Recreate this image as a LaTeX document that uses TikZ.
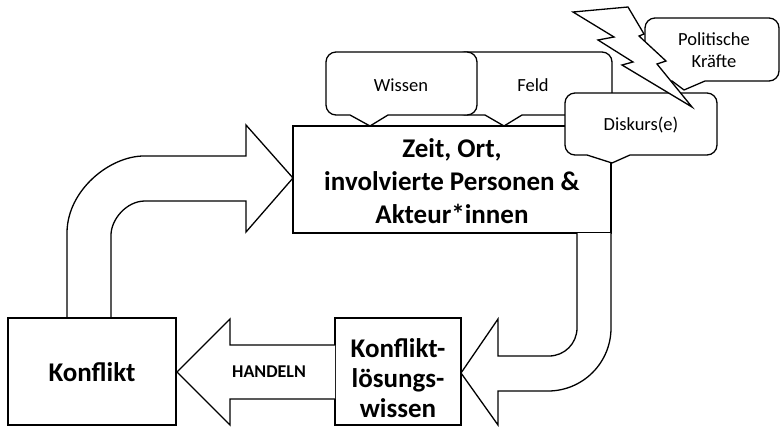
\documentclass[tikz,border=0pt]{standalone}
\usepackage{fontspec}
\setmainfont{Carlito}
\tikzset{
  shape line/.style={draw=black, line width=1.3pt, fill=white, line join=miter},
  bigtext/.style={align=center, font=\fontsize{27}{33}\selectfont\bfseries},
  calltext/.style={align=center, font=\fontsize{18.5}{22}\selectfont},
}
% callout: l t r b x1 tipx tipy x2
\newcommand{\mycallout}[8]{%
  \path[shape line] (#5,#4) -- (#6,#7) -- (#8,#4) -- ({#3-10},#4)
    .. controls ({#3-4.5},#4) and (#3,{#4-4.5}) .. (#3,{#4-10})
    -- (#3,{#2+10}) .. controls (#3,{#2+4.5}) and ({#3-4.5},#2) .. ({#3-10},#2)
    -- ({#1+10},#2) .. controls ({#1+4.5},#2) and (#1,{#2+4.5}) .. (#1,{#2+10})
    -- (#1,{#4-10}) .. controls (#1,{#4-4.5}) and ({#1+4.5},#4) .. ({#1+10},#4)
    -- cycle;}
\begin{document}
\begin{tikzpicture}[x=1pt,y=-1pt]
\useasboundingbox[fill=white] (0,0) rectangle (782,426);

% main box
\path[shape line] (293,126) rectangle (611,233);
\node[bigtext] (main) at (452,181) {Zeit, Ort,\\involvierte Personen \&\\Akteur*innen};

% upper-left bent arrow
\path[shape line] (67,318) -- (67,233) .. controls (67,190.5) and (109.5,156) .. (144,156)
  -- (246,156) -- (246,125) -- (293,178) -- (246,232) -- (246,201) -- (145,201)
  .. controls (126.2,201) and (111,219.8) .. (111,235) -- (111,318);

% right bent arrow
\path[shape line] (577,233) -- (577,328) .. controls (577,343.5) and (564.5,356) .. (549,356)
  -- (498,356) -- (498,319) -- (461,373) -- (498,425) -- (498,391) -- (548,391)
  .. controls (582.8,391) and (611,362.8) .. (611,328) -- (611,233);

% bottom boxes
\path[shape line] (8,318) rectangle (176,425);
\node[bigtext] (konflikt) at (92,372) {Konflikt};
\path[shape line] (335,318) rectangle (461,425);
\node[bigtext, font=\fontsize{27}{30}\selectfont\bfseries] (kl) at (398,378) {Konflikt-\\lösungs-\\wissen};

% HANDELN arrow
\path[shape line] (335,345) -- (230,345) -- (230,319) -- (177,372) -- (230,425) -- (230,399) -- (335,399);
\node[font=\fontsize{18}{20}\selectfont\bfseries] (handeln) at (269,372) {HANDELN};

% callouts
\mycallout{455}{52}{612}{115}{485}{504}{126}{522}
\node[calltext] (feld) at (533,85) {Feld};
\mycallout{326}{52}{477}{115}{350}{370}{126}{388}
\node[calltext] (wissen) at (401,85) {Wissen};
\mycallout{565}{93}{717}{155}{587}{612}{163}{630}
\node[calltext] (diskurs) at (641,125) {Diskurs(e)};
\mycallout{645}{18}{779}{81}{672}{684}{90}{705}
\node[calltext] (pol) at (714,50) {Politische\\Kräfte};

% lightning
\path[shape line] (573,12) -- (628,7) -- (644,34) -- (639,36) -- (666,61) -- (657,64)
  -- (692,107) -- (622,65) -- (633,62) -- (598,40) -- (614,37) -- cycle;
\end{tikzpicture}
\end{document}
